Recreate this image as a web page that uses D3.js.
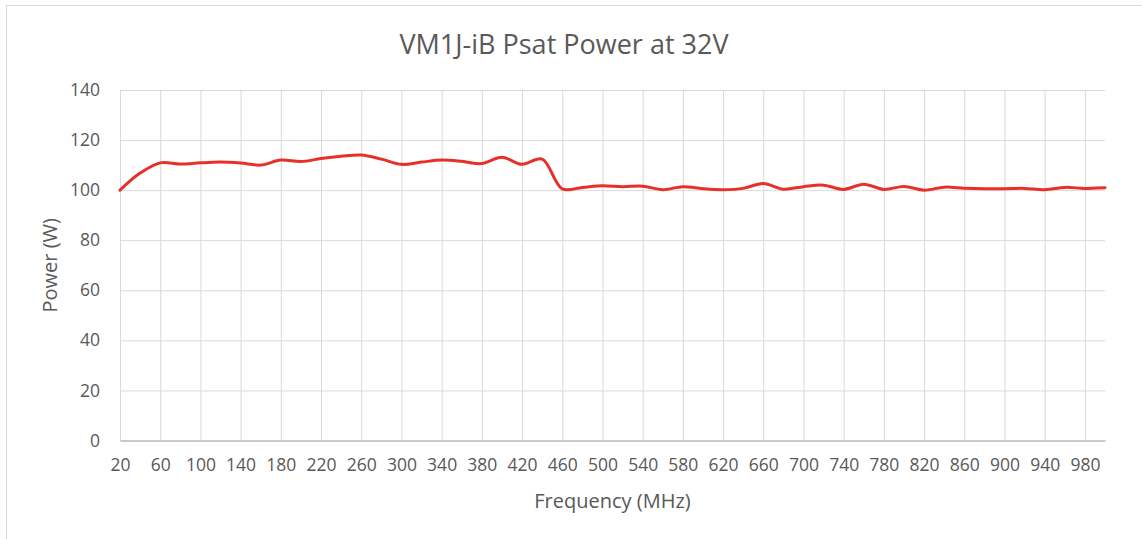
<!DOCTYPE html>
<html>
<head>
<meta charset="utf-8">
<script src="https://cdn.jsdelivr.net/npm/d3@7"></script>
<style>
  html, body { margin: 0; padding: 0; background: #fff; }
  svg { display: block; }
  text { font-family: "Open Sans", "Noto Sans", sans-serif; fill: #595959; }
</style>
</head>
<body>
<svg id="chart" width="1142" height="539"></svg>
<script>
const title = "VM1J-iB Psat Power at 32V";
const xTitle = "Frequency (MHz)";
const yTitle = "Power (W)";

const frequencies = [20,40,60,80,100,120,140,160,180,200,220,240,260,280,300,320,340,360,380,400,
  420,440,460,480,500,520,540,560,580,600,620,640,660,680,700,720,740,760,780,800,
  820,840,860,880,900,920,940,960,980,1000];
const power = [100.0,106.8,110.9,110.4,110.9,111.2,110.8,110.0,112.0,111.4,112.6,113.5,114.0,112.4,110.3,111.2,112.0,111.5,110.6,113.1,
  110.3,112.4,100.5,101.1,101.8,101.4,101.6,100.2,101.4,100.6,100.2,100.7,102.7,100.4,101.4,102.0,100.3,102.4,100.3,101.5,
  100.0,101.2,100.8,100.6,100.6,100.7,100.2,101.1,100.7,101.0];

const xTickLabels = [20,60,100,140,180,220,260,300,340,380,420,460,500,540,580,620,660,700,740,780,820,860,900,940,980];
const yTickLabels = [0,20,40,60,80,100,120,140];

const svg = d3.select("#chart");
const mLeft = 120, mRight = 1105, mTop = 90, mBottom = 440.5;

// chart border
svg.append("rect").attr("x", 6.5).attr("y", 5.5).attr("width", 1200).attr("height", 600)
  .attr("fill", "none").attr("stroke", "#d9d9d9").attr("stroke-width", 1);

const x = d3.scaleLinear().domain([20, 1000]).range([mLeft, mRight]);
const y = d3.scaleLinear().domain([0, 140]).range([mBottom, mTop]);

// horizontal gridlines
svg.append("g").attr("transform", `translate(${mLeft},0)`)
  .call(d3.axisLeft(y).tickValues(yTickLabels).tickSize(-(mRight - mLeft)).tickFormat(""))
  .call(g => g.select(".domain").remove())
  .call(g => g.selectAll(".tick line").attr("stroke", "#d9d9d9").attr("stroke-width", 1));

// vertical gridlines
svg.append("g").attr("transform", `translate(0,${mTop})`)
  .call(d3.axisBottom(x).tickValues(xTickLabels).tickSize(mBottom - mTop).tickFormat(""))
  .call(g => g.select(".domain").remove())
  .call(g => g.selectAll(".tick line").attr("stroke", "#d9d9d9").attr("stroke-width", 1));

// x axis
const xAxis = svg.append("g").attr("transform", `translate(0,${mBottom})`)
  .call(d3.axisBottom(x).tickValues(xTickLabels).tickSize(0).tickPadding(18).tickFormat(d3.format("d")));
xAxis.select(".domain").attr("stroke", "#bfbfbf").attr("stroke-width", 1.5);
xAxis.selectAll("text").style("font-size", "17.5px").attr("fill", "#595959");

// y axis labels
const yAxis = svg.append("g").attr("transform", `translate(${mLeft},0)`)
  .call(d3.axisLeft(y).tickValues(yTickLabels).tickSize(0).tickPadding(20).tickFormat(d3.format("d")));
yAxis.select(".domain").remove();
yAxis.selectAll("text").style("font-size", "17.5px").attr("fill", "#595959");

// line
const line = d3.line().x((d, i) => x(frequencies[i])).y(d => y(d)).curve(d3.curveCatmullRom.alpha(0.5));
svg.append("path").datum(power).attr("d", line)
  .attr("fill", "none").attr("stroke", "#e8302a").attr("stroke-width", 3).attr("stroke-linecap", "round");

// titles
svg.append("text").attr("x", 564).attr("y", 54).attr("text-anchor", "middle")
  .style("font-size", "27px").text(title);
svg.append("text").attr("x", (mLeft + mRight) / 2).attr("y", 508).attr("text-anchor", "middle")
  .style("font-size", "20px").text(xTitle);
svg.append("text").attr("transform", `translate(57,${(mTop + mBottom) / 2}) rotate(-90)`).attr("text-anchor", "middle")
  .style("font-size", "20px").text(yTitle);
</script>
</body>
</html>
